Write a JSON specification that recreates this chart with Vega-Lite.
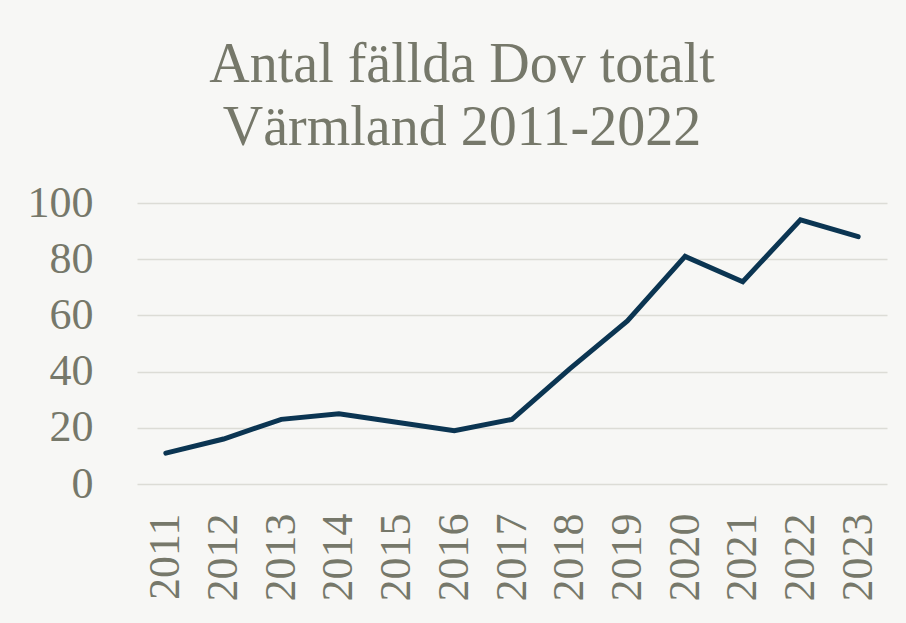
{
  "$schema": "https://vega.github.io/schema/vega-lite/v6.json",
  "autosize": "none",
  "width": 750,
  "height": 281,
  "padding": {"left": 137, "top": 203, "right": 19, "bottom": 139},
  "background": "#f7f7f5",
  "title": {
    "text": ["Antal fällda Dov totalt", "Värmland 2011-2022"],
    "font": "Liberation Serif",
    "fontSize": 56,
    "fontWeight": "normal",
    "color": "#76786a",
    "lineHeight": 63,
    "anchor": "middle",
    "dx": -50,
    "offset": 24
  },
  "data": {
    "values": [
      {"year": "2011", "count": 11},
      {"year": "2012", "count": 16},
      {"year": "2013", "count": 23},
      {"year": "2014", "count": 25},
      {"year": "2015", "count": 22},
      {"year": "2016", "count": 19},
      {"year": "2017", "count": 23},
      {"year": "2018", "count": 41},
      {"year": "2019", "count": 58},
      {"year": "2020", "count": 81},
      {"year": "2021", "count": 72},
      {"year": "2022", "count": 94},
      {"year": "2023", "count": 88}
    ]
  },
  "mark": {"type": "line", "color": "#0b3552", "strokeWidth": 5, "strokeCap": "round", "strokeJoin": "miter"},
  "encoding": {
    "x": {
      "field": "year",
      "type": "ordinal",
      "scale": {"type": "point", "padding": 0.5},
      "axis": {
        "title": null,
        "labelAngle": -90,
        "labelAlign": "right",
        "labelBaseline": "middle",
        "labelFont": "Liberation Serif",
        "labelFontSize": 44,
        "labelColor": "#76786a",
        "labelPadding": 29,
        "ticks": false,
        "domain": false,
        "grid": false
      }
    },
    "y": {
      "field": "count",
      "type": "quantitative",
      "scale": {"domain": [0, 100]},
      "axis": {
        "title": null,
        "values": [0, 20, 40, 60, 80, 100],
        "labelFont": "Liberation Serif",
        "labelFontSize": 44,
        "labelColor": "#76786a",
        "labelPadding": 44,
        "ticks": false,
        "domain": false,
        "grid": true,
        "gridColor": "#dcdcd6",
        "gridWidth": 1.5
      }
    }
  },
  "config": {
    "view": {"stroke": null}
  }
}
